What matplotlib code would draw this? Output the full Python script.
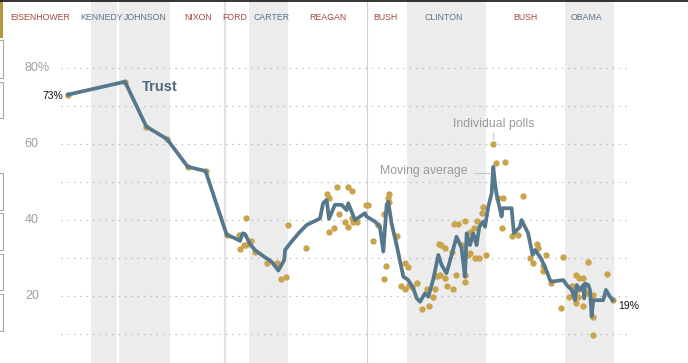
import matplotlib.pyplot as plt
from matplotlib.patches import Rectangle

# presidencies: label, party, shaded band (start, end) for democrats
presidents = ["EISENHOWER", "KENNEDY", "JOHNSON", "NIXON", "FORD", "CARTER",
              "REAGAN", "BUSH", "CLINTON", "BUSH", "OBAMA"]
parties = ["R", "D", "D", "R", "R", "D", "R", "R", "D", "R", "D"]
label_years = [1955.84, 1962.11, 1966.47, 1971.84, 1975.58, 1979.33,
               1985.0, 1990.77, 1996.75, 2004.95, 2011.13]
dem_bands = [(1961.0, 1963.6), (1963.85, 1969.05), (1977.0, 1980.95),
             (1993.0, 2001.0), (2009.0, 2013.96)]
same_party_changes = [1974.6, 1989.0]

# moving average of trust in government (%)
trend_years = [1958.67, 1964.44, 1966.6, 1968.7, 1970.8, 1972.6, 1974.74, 1975.58,
               1976.09, 1976.36, 1976.6, 1977.1, 1977.6, 1978.45, 1979.3, 1979.97,
               1980.57, 1980.65, 1981.3, 1982.16, 1982.84, 1984.19, 1984.5, 1984.86,
               1985.1, 1985.7, 1986.38, 1986.89, 1987.05, 1987.73, 1988.74, 1988.9,
               1989.76, 1990.26, 1990.6, 1990.94, 1991.1, 1991.44, 1991.95, 1992.63,
               1993.13, 1993.64, 1993.98, 1994.32, 1994.82, 1995.16, 1995.67, 1996.17,
               1996.5, 1997.0, 1997.52, 1998.02, 1998.53, 1998.87, 1999.04, 1999.38,
               1999.71, 2000.05, 2000.32, 2000.73, 2000.9, 2001.23, 2001.57, 2001.74,
               2001.91, 2002.08, 2002.58, 2002.68, 2003.59, 2003.83, 2004.44, 2004.6,
               2005.27, 2005.62, 2005.72, 2005.96, 2006.47, 2006.97, 2007.48, 2007.65,
               2008.83, 2009.17, 2009.68, 2010.01, 2010.18, 2010.52, 2010.85, 2010.95,
               2011.03, 2011.36, 2011.53, 2011.7, 2011.86, 2012.87, 2013.15, 2013.56,
               2013.83]
trend_values = [73, 76.4, 64.6, 61.3, 54, 52.9, 36.1, 35.2,
                34.5, 36.5, 36.3, 33.7, 32.1, 30.5, 29.0, 26.7,
                29.5, 32.1, 34.3, 36.9, 38.7, 40.4, 44.4, 45.3,
                40.3, 44.0, 44.0, 42.6, 44.4, 40.0, 41.8, 40.9,
                39.6, 38.2, 31.7, 44.0, 44.8, 39.1, 33.4, 25.1,
                24.2, 22.0, 19.4, 18.5, 20.7, 19.8, 24.5, 30.8,
                28.2, 26.0, 30.8, 35.6, 32.6, 25.1, 36.5, 33.4,
                36.5, 33.4, 38.2, 39.6, 38.2, 43.5, 47.0, 54.0,
                49.7, 46.6, 40.9, 43.1, 43.1, 36.5, 38.2, 40.0,
                36.5, 32.0, 30.8, 32.1, 30.3, 27.7, 24.2, 23.8,
                24.2, 22.9, 21.6, 18.9, 22.9, 21.6, 22.9, 19.4,
                23.3, 22.9, 21.6, 14.6, 18.9, 18.9, 21.6, 19.8,
                18.9]

# individual polls (%)
poll_years = [1958.67, 1964.44, 1966.6, 1968.7, 1970.8, 1972.6, 1974.74,
              1976.02, 1976.09, 1976.49, 1976.7, 1976.7, 1977.17, 1977.61, 1978.79,
              1979.8, 1980.21, 1980.72, 1980.92, 1982.77,
              1984.87, 1985.13, 1985.13, 1985.61, 1985.88, 1986.14, 1987.06, 1987.46,
              1986.72, 1987.06, 1987.4, 1987.56, 1987.97, 1988.85, 1989.08,
              1990.09, 1989.59, 1990.7, 1991.05, 1991.2, 1991.18, 1991.96, 1990.84,
              1990.7, 1992.8, 1993.13, 1992.36, 1992.8, 1993.23, 1993.48, 1993.98,
              1994.49, 1994.99, 1995.26, 1995.66, 1995.84, 1996.27, 1996.01, 1996.34,
              1996.85, 1997.02, 1997.69, 1996.41, 1996.85, 1997.53, 1997.96, 1997.79,
              1998.2, 1998.54, 1998.87, 1998.87, 1998.9, 1999.21, 1999.38, 1999.38,
              1999.78, 1999.89, 2000.06, 2000.32, 2000.56, 2000.73, 2001.0,
              2001.74, 2002.01, 2002.92, 2002.25, 2002.75, 2002.59, 2003.6, 2004.27,
              2004.78, 2005.46, 2005.73, 2006.13, 2006.3, 2007.08, 2006.8, 2006.8,
              2007.58, 2008.77, 2008.6,
              2009.43, 2009.68, 2010.11, 2010.11, 2010.35, 2010.45, 2010.85, 2010.69,
              2010.85, 2010.25, 2011.36, 2011.2, 2011.8, 2011.8, 2011.86, 2013.22,
              2013.83]
poll_values = [73, 76.4, 64.6, 61.3, 54, 52.9, 36.1,
               36.0, 32.5, 33.4, 33.4, 40.4, 34.6, 31.7, 28.8,
               28.8, 24.5, 25.1, 38.7, 32.6,
               46.8, 45.7, 36.9, 37.8, 48.6, 41.5, 48.6, 47.6,
               39.6, 38.1, 40.4, 39.6, 39.6, 43.9, 43.9,
               38.7, 34.5, 41.5, 45.9, 46.8, 44.8, 35.9, 27.9,
               24.5, 28.6, 27.7, 22.6, 21.8, 22.9, 22.4, 23.5,
               16.6, 21.8, 17.4, 19.8, 21.8, 33.6, 25.3, 25.5,
               24.7, 22.6, 21.8, 33.4, 32.6, 31.7, 25.5, 38.9,
               38.9, 33.4, 39.7, 25.5, 23.8, 30.8, 31.2, 36.9,
               37.8, 30.1, 39.7, 29.9, 41.8, 43.5, 30.8,
               60.0, 54.9, 55.3, 45.7, 45.7, 37.8, 35.8, 36.1,
               46.3, 29.9, 28.8, 33.6, 32.6, 30.8, 27.9, 26.6,
               23.5, 30.2, 16.8,
               19.8, 22.6, 25.5, 18.2, 19.8, 24.7, 24.7, 22.0,
               17.4, 21.6, 29.0, 20.7, 14.6, 9.7, 20.3, 25.7,
               18.9]

grid_values = [10, 20, 30, 40, 50, 60, 70, 80]
tick_values = [80, 60, 40, 20]
tick_labels = ["80%", "60", "40", "20"]

line_color = "#55788c"
poll_color = "#c9a44c"
party_colors = {"R": "#a14a3c", "D": "#5b7388"}

fig = plt.figure(figsize=(6.88, 3.63), dpi=100)
ax = fig.add_axes([0, 0, 1, 1])
ax.set_xlim(1951.785, 2021.456)
ax.set_ylim(2.37, 97.9)
ax.axis("off")

for start, end in dem_bands:
    ax.axvspan(start, end, color="#ececec", lw=0, zorder=0)
ax.axvline(same_party_changes[0], color="#e2e2e2", lw=1.6, zorder=0.5)
ax.axvline(same_party_changes[1], color="#cfcfcf", lw=0.8, zorder=0.5)

ax.hlines(grid_values, 1957.96, 2015.38, colors="#b5b5b5", lw=0.8,
          linestyles=(0, (1.2, 4.5)), zorder=1)
for v, lab in zip(tick_values, tick_labels):
    ax.text(1954.3, v, lab, ha="left", va="center", fontsize=9,
            color="#9e9e9e", family="Liberation Sans")

for name, party, yr in zip(presidents, parties, label_years):
    ax.text(yr, 93.4, name, ha="center", va="center", fontsize=6.3,
            color=party_colors[party], family="Liberation Sans")

ax.scatter(poll_years, poll_values, s=21, color=poll_color, lw=0, zorder=2)
ax.plot(trend_years, trend_values, color=line_color, lw=2.7,
        solid_joinstyle="round", zorder=3)

ax.text(1966.16, 75.0, "Trust", ha="left", va="center", fontsize=10.5,
        fontweight="bold", color="#4d6a80", family="Liberation Sans")
ax.text(1958.16, 72.6, "73%", ha="right", va="center", fontsize=7.5,
        color="#111111", family="Liberation Sans")
ax.text(2014.37, 17.3, "19%", ha="left", va="center", fontsize=7.5,
        color="#111111", family="Liberation Sans")

ax.text(2001.76, 65.3, "Individual polls", ha="center", va="center",
        fontsize=8.8, color="#9a9a9a", family="Liberation Sans")
ax.plot([2001.72, 2001.72], [62.9, 61.3], color="#c8c8c8", lw=0.8)
ax.text(1999.08, 52.9, "Moving average", ha="right", va="center",
        fontsize=8.8, color="#9a9a9a", family="Liberation Sans")
ax.plot([1999.78, 2001.6], [52.4, 52.4], color="#c8c8c8", lw=0.8)

# page decorations at the edges
fig.add_artist(Rectangle((0, 1 - 38 / 363), 3 / 688, 38 / 363,
                         transform=fig.transFigure, color="#b8963c", lw=0))
for top, bottom in [(40, 78), (82, 118), (173, 210), (213, 250), (254, 290), (294, 331)]:
    fig.add_artist(Rectangle((-5 / 688, 1 - bottom / 363), 8 / 688, (bottom - top) / 363,
                             transform=fig.transFigure, fill=False,
                             edgecolor="#a8a8a8", lw=0.8))
fig.add_artist(plt.Line2D([0, 1], [1 - 0.5 / 363, 1 - 0.5 / 363],
                          transform=fig.transFigure, color="#111111", lw=1.2))

fig.savefig("out.png", dpi=100)
